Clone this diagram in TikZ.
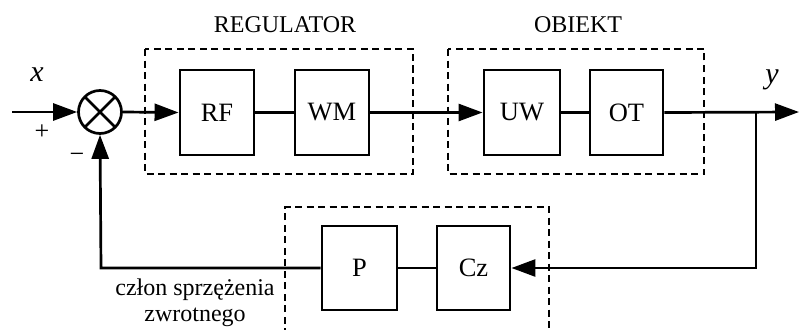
\documentclass[tikz,border=0pt]{standalone}
\usepackage{fontspec}
\setmainfont{Liberation Serif}
\usetikzlibrary{arrows.meta}
\begin{document}
\begin{tikzpicture}[x=1pt,y=-1pt,
  blok/.style={draw,line width=2.9pt,minimum width=74pt,minimum height=85pt,inner sep=0pt,
    font=\fontsize{26.5}{30}\selectfont},
  sumator/.style={draw,circle,line width=2.7pt,minimum size=43pt,inner sep=0pt,
    path picture={\draw[line width=2.7pt]
      (path picture bounding box.south west)--(path picture bounding box.north east)
      (path picture bounding box.north west)--(path picture bounding box.south east);}},
  sygnal/.style={line width=2.7pt},
  strz/.style={sygnal,-{Triangle[length=24pt,width=17pt]}},
  ramka/.style={line width=1.4pt,dash pattern=on 7pt off 4.5pt},
  opis/.style={font=\fontsize{24}{28}\selectfont,inner sep=0pt},
  znak/.style={font=\fontsize{26}{30}\selectfont,inner sep=0pt},
  zmienna/.style={font=\fontsize{30}{34}\selectfont\itshape,inner sep=0pt}]
\useasboundingbox (0,0) rectangle (799,329);

% dashed frames of the subsystems
\draw[ramka] (145,49) rectangle (413,174);
\draw[ramka] (448,49) rectangle (704,174);
\draw[ramka] (285,335) -- (285,207) -- (549,207) -- (549,335);

% blocks
\node[sumator] (sum) at (100,112) {};
\node[blok] (rf) at (217,112.5) {RF};
\node[blok] (wm) at (332,112.5) {WM};
\node[blok,minimum width=76pt] (uw) at (522,112.5) {UW};
\node[blok,minimum width=73pt] (ot) at (626.5,112.5) {OT};
\node[blok,minimum width=75pt,minimum height=84pt] (p) at (359.5,268) {P};
\node[blok,minimum width=73pt,minimum height=84pt] (cz) at (473.5,268) {Cz};

% free ends and corners
\coordinate (wej) at (12,112);
\coordinate (wyj) at (799,112);
\coordinate (rozg) at (756,112);
\coordinate (rog) at (756,268);
\coordinate (rogl) at (101,268);

% signal paths
\draw[strz] (wej) -- (sum.west);
\draw[strz] (sum.east) -- (rf.west);
\draw[sygnal] (rf.east) -- (wm.west);
\draw[strz] (wm.east) -- (uw.west);
\draw[sygnal] (uw.east) -- (ot.west);
\draw[strz] (ot.east) -- (wyj);
\draw[strz] (rozg) -- (rog) -- (cz.east);
\draw[sygnal] (cz.west) -- (p.east);
\draw[strz] (p.west) -- (rogl) -- (sum.south);

% labels
\node[opis] (treg) at (285,25) {REGULATOR};
\node[opis] (tobi) at (578,25) {OBIEKT};
\node[opis,align=center,font=\fontsize{24}{26}\selectfont] (tczl) at (195,303) {człon sprzężenia\\zwrotnego};
\node[zmienna] (tx) at (37,75) {x};
\node[zmienna] (ty) at (772,80) {y};
\node[znak] (tplus) at (42,132) {+};
\node[znak] (tminus) at (77,158) {−};
\end{tikzpicture}
\end{document}
